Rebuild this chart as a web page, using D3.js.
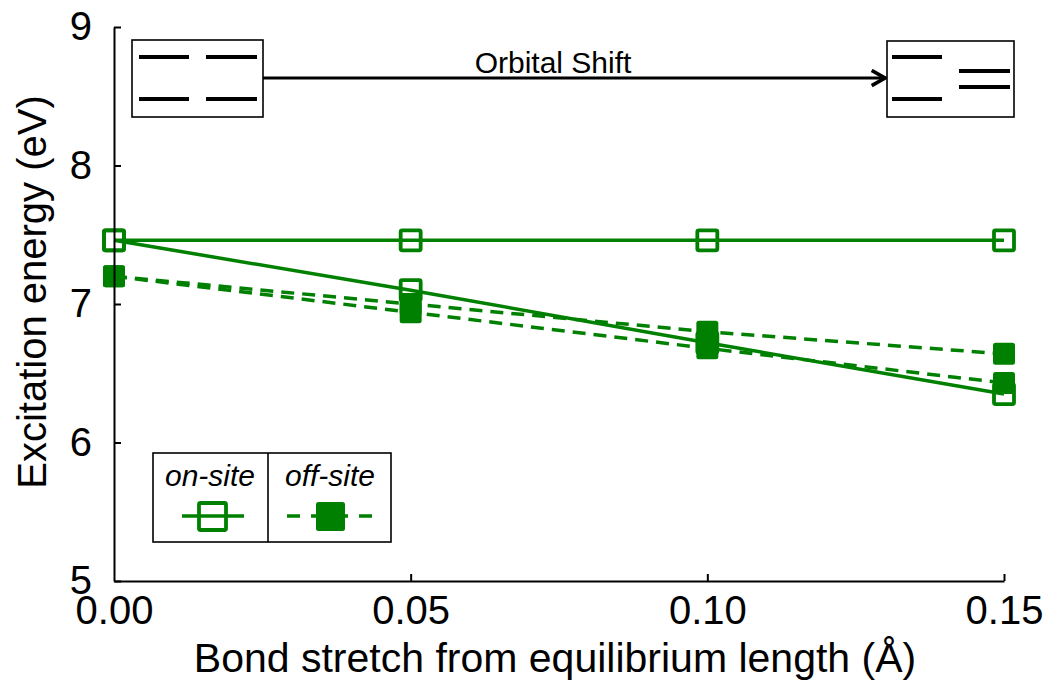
<!DOCTYPE html>
<html>
<head>
<meta charset="utf-8">
<script src="https://cdn.jsdelivr.net/npm/d3@7"></script>
<style>
  html, body { margin: 0; padding: 0; background: #fff; }
  svg { display: block; font-family: "Liberation Sans", Arial, Helvetica, sans-serif; }
</style>
</head>
<body>
<svg id="chart" width="1062" height="684"></svg>
<script>
// Bond stretch (Å) at which each excitation energy was computed
const stretch = [0.00, 0.05, 0.10, 0.15];

// Excitation energies (eV)
const onSiteFlat   = [7.46, 7.46, 7.46, 7.46];
const onSiteShift  = [7.46, 7.10, 6.72, 6.35];
const offSiteA     = [7.20, 7.00, 6.80, 6.64];
const offSiteB     = [7.20, 6.94, 6.68, 6.43];

const xTicks = [0.00, 0.05, 0.10, 0.15];
const yTicks = [5, 6, 7, 8, 9];

const series = [
  { values: onSiteFlat,  kind: "on"  },
  { values: onSiteShift, kind: "on"  },
  { values: offSiteA,    kind: "off" },
  { values: offSiteB,    kind: "off" }
];

const GREEN = "#008000";
const svg = d3.select("#chart");

const x = d3.scaleLinear().domain([0, 0.15]).range([114, 1004]);
const y = d3.scaleLinear().domain([5, 9]).range([581, 27]);

const line = d3.line()
  .x((d, i) => x(stretch[i]))
  .y(d => y(d));

const plot = svg.append("g");

// Lines
plot.selectAll("path.series")
  .data(series)
  .join("path")
  .attr("class", "series")
  .attr("d", s => line(s.values))
  .attr("fill", "none")
  .attr("stroke", GREEN)
  .attr("stroke-width", 3.5)
  .attr("stroke-dasharray", s => s.kind === "off" ? "13,8" : null);

// Markers
const M = 20;
series.forEach(s => {
  plot.selectAll(null)
    .data(s.values)
    .join("rect")
    .attr("x", (d, i) => x(stretch[i]) - M / 2)
    .attr("y", d => y(d) - M / 2)
    .attr("width", M)
    .attr("height", M)
    .attr("rx", 1.5)
    .attr("fill", s.kind === "off" ? GREEN : "none")
    .attr("stroke", GREEN)
    .attr("stroke-width", s.kind === "off" ? 2 : 3.8);
});

// Axes with inward ticks
const axisFont = 40;
const gx = svg.append("g")
  .attr("transform", `translate(0,${y(5)})`)
  .call(d3.axisBottom(x).tickValues(xTicks).tickFormat(d3.format(".2f"))
    .tickSizeInner(-7).tickSizeOuter(0).tickPadding(15));
const gy = svg.append("g")
  .attr("transform", `translate(${x(0)},0)`)
  .call(d3.axisLeft(y).tickValues(yTicks).tickFormat(d3.format("d"))
    .tickSizeInner(-7).tickSizeOuter(0).tickPadding(22));

[gx, gy].forEach(g => {
  g.select(".domain").attr("stroke", "#000").attr("stroke-width", 2);
  g.selectAll(".tick line").attr("stroke", "#000").attr("stroke-width", 2);
  g.selectAll(".tick text")
    .attr("fill", "#000")
    .style("font-size", axisFont + "px")
    .style("font-family", "'Liberation Sans', Arial, sans-serif");
});
gx.select(".tick line").remove();
gy.selectAll(".tick text").attr("dy", "0.32em");

// Axis titles
svg.append("text")
  .attr("x", 555).attr("y", 672)
  .attr("text-anchor", "middle")
  .style("font-size", "41px")
  .text("Bond stretch from equilibrium length (Å)");

svg.append("text")
  .attr("transform", "translate(46,292) rotate(-90)")
  .attr("text-anchor", "middle")
  .style("font-size", "40px")
  .text("Excitation energy (eV)");

// Orbital level diagrams with the shift arrow
const inset = svg.append("g");
const boxes = [
  { x0: 132, x1: 263, y0: 40, y1: 117,
    levels: [[139, 189, 57], [206, 257, 57], [139, 189, 99], [206, 257, 99]] },
  { x0: 887, x1: 1014, y0: 41, y1: 117,
    levels: [[892, 942, 57], [892, 942, 99], [959, 1010, 71], [959, 1010, 87]] }
];
boxes.forEach(b => {
  inset.append("rect")
    .attr("x", b.x0).attr("y", b.y0)
    .attr("width", b.x1 - b.x0).attr("height", b.y1 - b.y0)
    .attr("fill", "#fff").attr("stroke", "#000").attr("stroke-width", 1.6);
  b.levels.forEach(l => {
    inset.append("line")
      .attr("x1", l[0]).attr("x2", l[1]).attr("y1", l[2]).attr("y2", l[2])
      .attr("stroke", "#000").attr("stroke-width", 4);
  });
});

svg.append("defs").append("marker")
  .attr("id", "arrowhead")
  .attr("viewBox", "0 0 10 10")
  .attr("refX", 9).attr("refY", 5)
  .attr("markerWidth", 19).attr("markerHeight", 19)
  .attr("markerUnits", "userSpaceOnUse")
  .attr("orient", "auto")
  .append("path")
  .attr("d", "M2,1 L9,5 L2,9")
  .attr("fill", "none").attr("stroke", "#000").attr("stroke-width", 1.9)
  .attr("stroke-linejoin", "miter");

inset.append("line")
  .attr("x1", 263).attr("x2", 885).attr("y1", 78).attr("y2", 78)
  .attr("stroke", "#000").attr("stroke-width", 3)
  .attr("marker-end", "url(#arrowhead)");

inset.append("text")
  .attr("x", 553).attr("y", 73)
  .attr("text-anchor", "middle")
  .style("font-size", "30px")
  .text("Orbital Shift");

// Legend
const lg = svg.append("g");
lg.append("rect")
  .attr("x", 153).attr("y", 453).attr("width", 238).attr("height", 89)
  .attr("fill", "#fff").attr("stroke", "#000").attr("stroke-width", 1.6);
lg.append("line")
  .attr("x1", 268).attr("x2", 268).attr("y1", 453).attr("y2", 542)
  .attr("stroke", "#000").attr("stroke-width", 1.6);
lg.append("text").attr("x", 210).attr("y", 486).attr("text-anchor", "middle")
  .style("font-size", "30px").style("font-style", "italic").text("on-site");
lg.append("text").attr("x", 330).attr("y", 486).attr("text-anchor", "middle")
  .style("font-size", "30px").style("font-style", "italic").text("off-site");

lg.append("line")
  .attr("x1", 182).attr("x2", 244).attr("y1", 516).attr("y2", 516)
  .attr("stroke", GREEN).attr("stroke-width", 3.5);
lg.append("rect")
  .attr("x", 199).attr("y", 503).attr("width", 27).attr("height", 27).attr("rx", 1.5)
  .attr("fill", "none").attr("stroke", GREEN).attr("stroke-width", 3.8);

lg.append("line")
  .attr("x1", 287).attr("x2", 372).attr("y1", 516).attr("y2", 516)
  .attr("stroke", GREEN).attr("stroke-width", 3.5)
  .attr("stroke-dasharray", "13,11");
lg.append("rect")
  .attr("x", 317).attr("y", 503).attr("width", 27).attr("height", 27).attr("rx", 1.5)
  .attr("fill", GREEN).attr("stroke", GREEN).attr("stroke-width", 2);
</script>
</body>
</html>
